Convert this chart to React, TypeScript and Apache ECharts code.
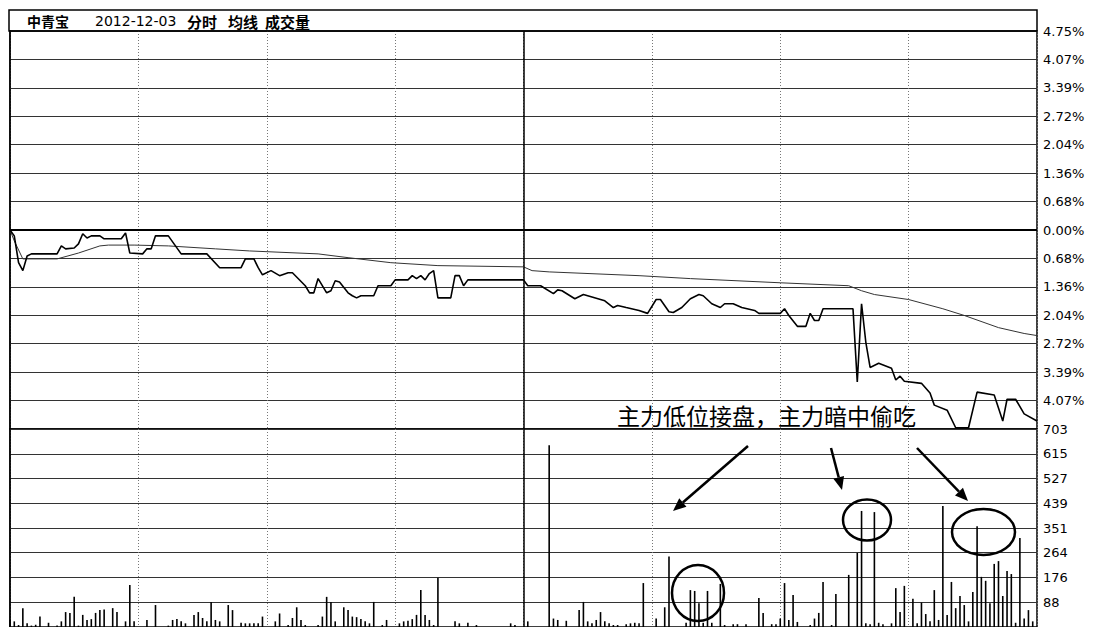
import React, { useEffect, useRef } from 'react';
import * as echarts from 'echarts';

// ---- Data ----
const titleStock = '中青宝';
const titleDate = '2012-12-03';
const titleParts = ['分时', '均线', '成交量'];
const annotationText = '主力低位接盘，主力暗中偷吃';

// price change in % by trading minute (0..240)
const pricePoints: [number, number][] = [
  [0, 0.0], [1, -0.14], [2, -0.78], [3, -0.97], [4, -0.62], [5, -0.57], [11, -0.57], [12, -0.38], [13, -0.45],
  [15, -0.43], [16, -0.33], [17, -0.09], [18, -0.19], [19, -0.14], [21, -0.14], [22, -0.21], [26, -0.21],
  [27, -0.07], [28, -0.55], [31, -0.57], [32, -0.45], [33, -0.45], [34, -0.14], [37, -0.14], [40, -0.57],
  [46, -0.57], [49, -0.9], [54, -0.9], [55, -0.69], [57, -0.69], [58, -0.9], [59, -1.07], [61, -0.97],
  [63, -1.09], [65, -1.02], [66, -1.02], [69, -1.33], [70, -1.5], [71, -1.5], [72, -1.16], [74, -1.5],
  [75, -1.45], [76, -1.21], [77, -1.24], [79, -1.5], [80, -1.57], [81, -1.62], [82, -1.57], [85, -1.57],
  [86, -1.33], [89, -1.33], [90, -1.19], [93, -1.19], [94, -1.09], [95, -1.16], [96, -1.09], [97, -1.19],
  [98, -1.04], [99, -0.97], [100, -1.62], [103, -1.62], [104, -1.09], [105, -1.09], [106, -1.33], [107, -1.19],
  [120, -1.19], [121, -1.33], [124, -1.33], [127, -1.52], [128, -1.43], [129, -1.45], [132, -1.64], [134, -1.54],
  [135, -1.57], [139, -1.69], [141, -1.85], [142, -1.8], [144, -1.85], [147, -1.92], [149, -1.99], [151, -1.66],
  [152, -1.66], [154, -1.95], [155, -1.97], [157, -1.85], [159, -1.64], [161, -1.54], [162, -1.57], [164, -1.76],
  [166, -1.85], [167, -1.76], [169, -1.76], [171, -1.85], [174, -1.92], [175, -1.99], [180, -1.99], [181, -1.88],
  [182, -2.04], [184, -2.3], [186, -2.3], [187, -1.99], [188, -2.16], [189, -2.16], [190, -1.88], [197, -1.88],
  [198, -3.63], [199, -1.76], [200, -2.68], [201, -3.28], [203, -3.18], [206, -3.3], [207, -3.58], [208, -3.49],
  [209, -3.61], [213, -3.66], [215, -3.89], [216, -4.18], [219, -4.3], [221, -4.72], [224, -4.72], [226, -3.87],
  [230, -3.94], [232, -4.56], [233, -4.04], [235, -4.04], [237, -4.39], [240, -4.56],
];

// average price line in %
const avgPoints: [number, number][] = [
  [0, 0], [1, -0.26], [3, -0.69], [4, -0.69], [11, -0.69], [16, -0.55], [21, -0.38], [23, -0.36], [29, -0.36],
  [37, -0.38], [48, -0.45], [56, -0.5], [72, -0.57], [79, -0.66], [89, -0.78], [100, -0.85], [120, -0.88],
  [122, -0.97], [126, -1.0], [147, -1.09], [159, -1.16], [180, -1.26], [196, -1.33], [199, -1.45], [202, -1.54],
  [210, -1.66], [218, -1.88], [223, -2.04], [231, -2.33], [237, -2.47], [240, -2.52],
];

// volume by minute
const volumePoints: [number, number][] = [
  [0, 25], [1, 20], [2, 7], [3, 67], [4, 13], [5, 5], [6, 8], [7, 37], [9, 15], [11, 5], [12, 20], [13, 53],
  [14, 50], [15, 107], [16, 5], [17, 43], [18, 25], [19, 28], [20, 50], [21, 60], [22, 62], [24, 67], [25, 53],
  [27, 20], [28, 149], [29, 20], [32, 25], [34, 78], [37, 5], [38, 25], [39, 28], [40, 20], [41, 13], [43, 43],
  [44, 53], [45, 32], [46, 20], [47, 89], [48, 25], [49, 20], [51, 78], [52, 60], [54, 15], [55, 13], [56, 13],
  [57, 13], [58, 13], [59, 37], [62, 20], [63, 48], [65, 7], [66, 32], [67, 70], [68, 25], [69, 7], [72, 7],
  [73, 37], [74, 107], [75, 89], [76, 20], [78, 70], [79, 60], [80, 37], [81, 35], [82, 28], [83, 20], [84, 13],
  [85, 89], [87, 7], [88, 25], [91, 13], [92, 20], [93, 22], [94, 28], [95, 43], [96, 131], [97, 43], [98, 25],
  [99, 7], [100, 175], [104, 20], [105, 13], [107, 15], [109, 7], [117, 13], [118, 7],
  [121, 20], [126, 645], [127, 30], [128, 25], [130, 22], [133, 60], [134, 89], [135, 20], [136, 13], [137, 25],
  [138, 53], [139, 20], [140, 13], [141, 7], [142, 7], [144, 10], [145, 13], [146, 15], [147, 13], [148, 156],
  [151, 30], [153, 70], [154, 250], [158, 15], [159, 131], [160, 128], [161, 84], [162, 15], [163, 128], [164, 15],
  [166, 153], [167, 7], [169, 10], [170, 10], [172, 10], [175, 103], [176, 50], [178, 10], [179, 10], [180, 30],
  [181, 156], [182, 25], [183, 114], [184, 18], [187, 7], [188, 30], [189, 50], [190, 160], [192, 7], [193, 117],
  [196, 185], [198, 263], [199, 412], [200, 13], [201, 10], [202, 408], [203, 15], [204, 10], [206, 13], [207, 138],
  [208, 53], [209, 146], [211, 100], [212, 13], [213, 87], [214, 46], [215, 20], [216, 131], [217, 25], [218, 430],
  [219, 43], [220, 160], [221, 67], [222, 110], [223, 78], [224, 20], [225, 124], [226, 358], [227, 178], [228, 164],
  [229, 84], [230, 224], [231, 234], [232, 110], [233, 199], [234, 188], [235, 15], [236, 316], [237, 30], [238, 60],
  [239, 20],
];

// tick labels, bottom to top
const priceTickLabels = ['', '4.07%', '3.39%', '2.72%', '2.04%', '1.36%', '0.68%', '0.00%', '0.68%', '1.36%', '2.04%', '2.72%', '3.39%', '4.07%', '4.75%'];
const volumeTickLabels = ['', '88', '176', '264', '351', '439', '527', '615', '703'];

const PRICE_MAX = 4.75;
const PRICE_STEP = PRICE_MAX / 7;
const VOL_MAX = 703;
const VOL_STEP = VOL_MAX / 8;
const MINUTES = 240;

function arrow(x1: number, y1: number, x2: number, y2: number) {
  const ang = Math.atan2(y2 - y1, x2 - x1);
  const len = 13;
  const w = 5.5;
  const bx = x2 - len * Math.cos(ang);
  const by = y2 - len * Math.sin(ang);
  const px = -Math.sin(ang) * w;
  const py = Math.cos(ang) * w;
  return [
    { type: 'line', z: 100, shape: { x1, y1, x2: bx, y2: by }, style: { stroke: '#000', lineWidth: 2.5 } },
    { type: 'polygon', z: 100, shape: { points: [[x2, y2], [bx + px, by + py], [bx - px, by - py]] }, style: { fill: '#000' } },
  ];
}

function ellipse(cx: number, cy: number, rx: number, ry: number) {
  return { type: 'ellipse', z: 100, shape: { cx, cy, rx, ry }, style: { fill: 'none', stroke: '#000', lineWidth: 2.5 } };
}

export default function App() {
  const ref = useRef<HTMLDivElement>(null);
  useEffect(() => {
    document.body.style.margin = '0';
    const chart = echarts.init(ref.current!, null, { renderer: 'svg' });
    const labelFont = { color: '#000', fontSize: 13, fontFamily: 'DejaVu Sans', margin: 6 };
    const xAxisBase = {
      type: 'value', min: 0, max: MINUTES, interval: 30,
      axisLine: { show: false }, axisTick: { show: false }, axisLabel: { show: false },
      splitLine: { show: true, lineStyle: { color: '#777', type: [1, 2], width: 1 } },
    };
    const option = {
      animation: false,
      backgroundColor: '#fff',
      grid: [
        { left: 10, top: 31, width: 1027, height: 398, show: true, borderColor: '#000', borderWidth: 1.5 },
        { left: 10, top: 429, width: 1027, height: 198, show: true, borderColor: '#000', borderWidth: 1.5 },
      ],
      xAxis: [
        { ...xAxisBase, gridIndex: 0 },
        { ...xAxisBase, gridIndex: 1 },
      ],
      yAxis: [
        {
          type: 'value', gridIndex: 0, position: 'right', min: -PRICE_MAX, max: PRICE_MAX, interval: PRICE_STEP,
          axisLine: { show: true, lineStyle: { color: '#000', width: 1.5 } }, axisTick: { show: false },
          axisLabel: { ...labelFont, formatter: (v: number) => priceTickLabels[Math.round((v + PRICE_MAX) / PRICE_STEP)] ?? '' },
          splitLine: { show: true, lineStyle: { color: '#333', width: 1 } },
        },
        {
          type: 'value', gridIndex: 1, position: 'right', min: 0, max: VOL_MAX, interval: VOL_STEP,
          axisLine: { show: true, lineStyle: { color: '#000', width: 1.5 } }, axisTick: { show: false },
          axisLabel: { ...labelFont, formatter: (v: number) => volumeTickLabels[Math.round(v / VOL_STEP)] ?? '' },
          splitLine: { show: true, lineStyle: { color: '#333', width: 1 } },
        },
      ],
      series: [
        {
          type: 'line', xAxisIndex: 0, yAxisIndex: 0, data: avgPoints, symbol: 'none',
          lineStyle: { color: '#333', width: 1 }, z: 3,
        },
        {
          type: 'line', xAxisIndex: 0, yAxisIndex: 0, data: pricePoints, symbol: 'none',
          lineStyle: { color: '#000', width: 1.6 }, z: 4,
          markLine: {
            silent: true, symbol: ['none', 'none'], label: { show: false },
            data: [
              { yAxis: 0, lineStyle: { color: '#000', width: 2, type: 'solid' } },
              { xAxis: MINUTES / 2, lineStyle: { color: '#000', width: 1.5, type: 'solid' } },
            ],
          },
        },
        {
          type: 'bar', xAxisIndex: 1, yAxisIndex: 1, data: volumePoints, barWidth: 1.6,
          itemStyle: { color: '#000' }, z: 4,
          markLine: {
            silent: true, symbol: ['none', 'none'], label: { show: false },
            data: [{ xAxis: MINUTES / 2, lineStyle: { color: '#000', width: 1.5, type: 'solid' } }],
          },
        },
      ],
      graphic: [
        { type: 'rect', z: 100, shape: { x: 9, y: 10, width: 1028, height: 21 }, style: { fill: 'none', stroke: '#000', lineWidth: 1.5 } },
        { type: 'text', z: 100, style: { text: titleStock, x: 27, y: 21, fontSize: 14, fontWeight: 'bold', fontFamily: 'Noto Sans CJK SC', fill: '#000', verticalAlign: 'middle' } },
        { type: 'text', z: 100, style: { text: titleDate, x: 95, y: 21, fontSize: 14, fontFamily: 'DejaVu Sans', fill: '#000', verticalAlign: 'middle' } },
        { type: 'text', z: 100, style: { text: titleParts[0], x: 187, y: 21, fontSize: 15, fontWeight: 'bold', fontFamily: 'Noto Sans CJK SC', fill: '#000', verticalAlign: 'middle' } },
        { type: 'text', z: 100, style: { text: titleParts[1], x: 228, y: 21, fontSize: 15, fontWeight: 'bold', fontFamily: 'Noto Sans CJK SC', fill: '#000', verticalAlign: 'middle' } },
        { type: 'text', z: 100, style: { text: titleParts[2], x: 265, y: 21, fontSize: 15, fontWeight: 'bold', fontFamily: 'Noto Sans CJK SC', fill: '#000', verticalAlign: 'middle' } },
        { type: 'text', z: 100, style: { text: annotationText, x: 617, y: 415, fontSize: 23, fontFamily: 'Noto Sans CJK SC', fill: '#000', verticalAlign: 'middle' } },
        ...arrow(748, 446, 673, 511),
        ...arrow(831, 448, 842, 490),
        ...arrow(917, 448, 968, 501),
        ellipse(698, 593, 26, 28),
        ellipse(867, 520, 24, 20.5),
        ellipse(983.5, 532, 31.5, 23),
      ],
    };
    chart.setOption(option as any);
    return () => chart.dispose();
  }, []);
  return <div ref={ref} style={{ width: 1104, height: 627, background: '#fff' }} />;
}
